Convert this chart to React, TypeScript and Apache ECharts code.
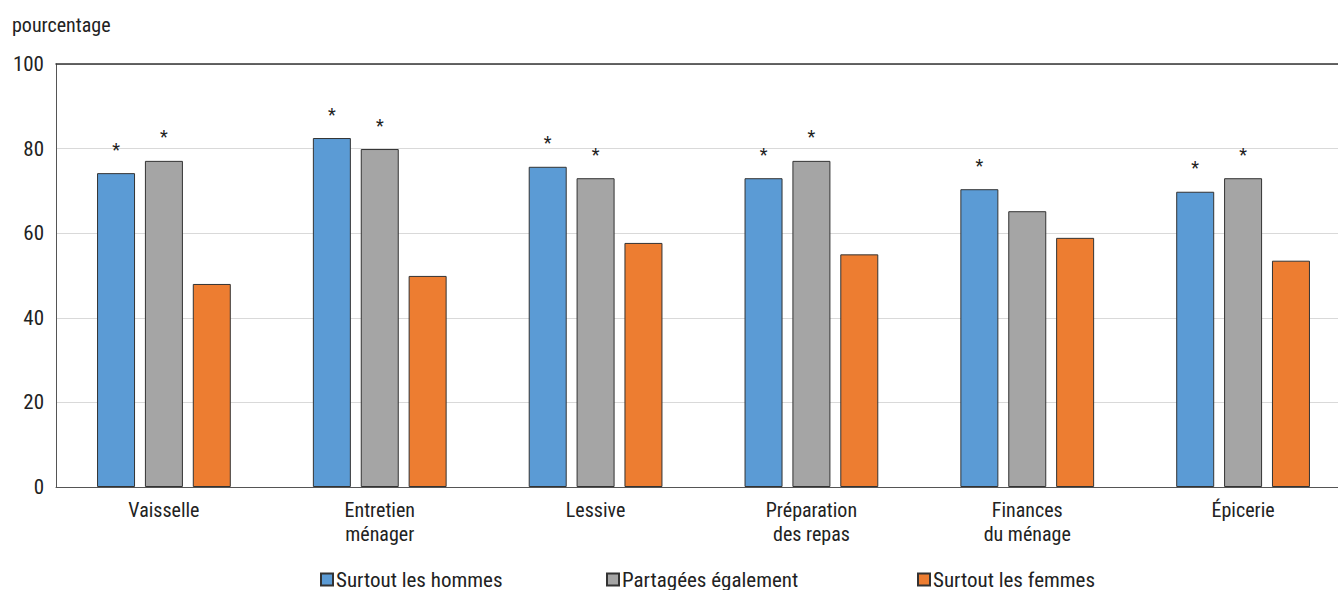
import React, { useEffect, useRef } from "react";
import * as echarts from "echarts";

const categories = [
  "Vaisselle",
  "Entretien\nménager",
  "Lessive",
  "Préparation\ndes repas",
  "Finances\ndu ménage",
  "Épicerie",
];
const seriesNames = ["Surtout les hommes", "Partagées également", "Surtout les femmes"];
const hommes = [74.2, 82.5, 75.7, 73.0, 70.4, 69.8];
const partagees = [77.1, 79.9, 73.0, 77.1, 65.2, 73.0];
const femmes = [48.0, 49.9, 57.7, 55.0, 58.9, 53.5];
const starsHommes = [true, true, true, true, true, true];
const starsPartagees = [true, true, true, true, false, true];
const starsFemmes = [false, false, false, false, false, false];
const yTicks = [0, 20, 40, 60, 80, 100];

const colors = ["#5B9BD5", "#A5A5A5", "#ED7D31"];
const FONT = "'Liberation Sans Narrow', 'Arial Narrow', 'Roboto Condensed', 'Liberation Sans', sans-serif";

export default function App() {
  const ref = useRef<HTMLDivElement>(null);
  useEffect(() => {
    if (!ref.current) return;
    const chart = echarts.init(ref.current, undefined, { renderer: "svg" });
    const mk = (vals: number[], stars: boolean[]) =>
      vals.map((v, i) => ({
        value: v,
        label: { show: stars[i] },
      }));
    const seriesData = [
      mk(hommes, starsHommes),
      mk(partagees, starsPartagees),
      mk(femmes, starsFemmes),
    ];
    chart.setOption({
      animation: false,
      textStyle: { fontFamily: FONT },
      grid: { left: 56, top: 64, bottom: 103, right: 14, containLabel: false },
      title: {
        text: "pourcentage",
        left: 7,
        top: 10,
        textStyle: { fontFamily: FONT, fontSize: 20, fontWeight: "normal", color: "#222" },
      },
      legend: seriesNames.map((n, i) => ({
        data: [n],
        left: [315, 601, 912][i],
        top: 564,
        icon: "rect",
        itemWidth: 12,
        itemHeight: 12,
        itemGap: 4,
        textStyle: { fontFamily: FONT, fontSize: 21, color: "#222", padding: [0, 0, 0, -2] },
      })),
      xAxis: [
        {
          type: "category",
          data: categories,
          axisLine: { lineStyle: { color: "#555", width: 1 } },
          axisTick: { show: false },
          axisLabel: {
            fontFamily: FONT,
            fontSize: 20,
            color: "#222",
            lineHeight: 24,
            margin: 11,
            interval: 0,
          },
        },
        {
          type: "category",
          data: categories,
          position: "top",
          axisLine: { show: true, lineStyle: { color: "#333", width: 1.5 } },
          axisTick: { show: false },
          axisLabel: { show: false },
        },
      ],
      yAxis: {
        type: "value",
        min: yTicks[0],
        max: yTicks[yTicks.length - 1],
        interval: 20,
        axisLine: { show: true, lineStyle: { color: "#555", width: 1 } },
        axisTick: { show: false },
        axisLabel: { fontFamily: FONT, fontSize: 21, color: "#222", margin: 12 },
        splitLine: { lineStyle: { color: "#d9d9d9", width: 1 } },
      },
      series: seriesNames.map((n, i) => ({
        name: n,
        type: "bar",
        data: seriesData[i],
        barWidth: 38,
        barGap: "26%",
        itemStyle: { color: colors[i], borderColor: "#333", borderWidth: 1 },
        label: {
          position: "top",
          distance: 15,
          formatter: "*",
          fontFamily: FONT,
          fontSize: 18,
          color: "#222",
        },
      })),
    });
    return () => chart.dispose();
  }, []);
  return (
    <div
      style={{ position: "fixed", left: 0, top: 0, width: 1338, height: 590, overflow: "hidden", background: "#fff" }}
    >
      <div ref={ref} style={{ width: 1365, height: 590 }} />
    </div>
  );
}
